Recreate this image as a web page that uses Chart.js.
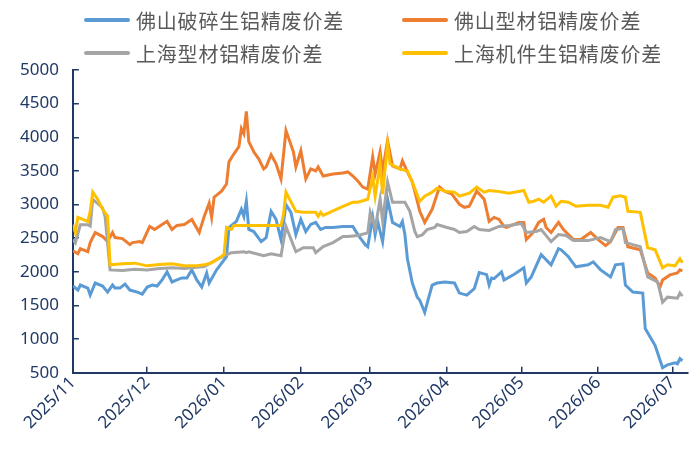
<!DOCTYPE html>
<html lang="zh-CN">
<head>
    <meta charset="UTF-8">
    <title>铝精废价差</title>
    <style>
        body {
            margin: 0;
            background-color: white;
            font-family: "Noto Sans CJK SC", sans-serif;
        }
        .wrap {
            position: relative;
            width: 693px;
            height: 456px;
        }
        #legend {
            position: absolute;
            left: 0;
            top: 0;
            width: 693px;
            height: 70px;
        }
        .item {
            position: absolute;
            display: flex;
            align-items: center;
            height: 30px;
            font-size: 20px;
            letter-spacing: 0.8px;
            color: #595959;
            white-space: nowrap;
        }
        .swatch {
            display: inline-block;
            width: 46px;
            height: 4px;
            margin-right: 6px;
            border-radius: 2px;
        }
    </style>
    <script src="https://cdn.jsdelivr.net/npm/chart.js"></script>
</head>
<body>
<div class="wrap">
    <canvas id="lineChart" width="693" height="456"></canvas>
    <div id="legend"></div>
</div>

<script>
    // series names / colours
    const seriesNames = ['佛山破碎生铝精废价差', '佛山型材铝精废价差', '上海型材铝精废价差', '上海机件生铝精废价差'];
    const seriesColors = ['#5B9BD5', '#ED7D31', '#A5A5A5', '#FFC000'];

    // x axis: days counted from 2025/11/01
    const monthStarts = [0, 30, 61, 92, 120, 151, 181, 212, 242];
    const monthLabels = ['2025/11', '2025/12', '2026/01', '2026/02', '2026/03', '2026/04', '2026/05', '2026/06', '2026/07'];

    // 佛山破碎生铝精废价差
    const blueDays = [0,2,3,6,7,9,12,14,16,17,19,21,23,26,28,30,32,34,36,38,40,42,44,46,48,50,52,54,55,58,
        62,63,66,68,69,70,71,73,76,78,80,82,84,86,88,90,92,94,96,98,100,102,105,109,113,115,118,119,121,122,
        123,125,127,129,132,133,134,135,137,139,140,142,143,145,147,150,154,156,159,162,164,167,168,169,170,173,174,178,182,183,
        185,189,193,196,197,200,203,208,210,213,217,219,222,223,226,230,231,235,238,240,243,244,245,246];
    const blueVals = [1790,1730,1805,1760,1655,1835,1790,1700,1805,1760,1760,1820,1730,1700,1670,1775,1805,1790,1880,2000,
        1850,1880,1910,1910,2030,1880,1775,1985,1835,2030,2225,2660,2750,2930,2825,3050,2630,2600,2450,2510,
        2900,2780,2480,3000,2885,2555,2780,2600,2705,2735,2630,2660,2660,2675,2675,2555,2405,2375,2810,2555,
        2750,2450,3080,2735,2675,2750,2555,2200,1835,1625,1580,1400,1535,1805,1835,1850,1835,1685,1655,1750,
        1990,1960,1805,1910,1900,2000,1880,1960,2060,1835,1925,2255,2105,2345,2330,2225,2075,2105,2150,2030,
        1925,2105,2120,1805,1700,1685,1160,905,575,620,650,635,710,680];

    // 佛山型材铝精废价差
    const orangeDays = [0,2,3,6,7,9,12,14,16,17,20,23,24,27,28,31,33,36,38,40,42,45,48,51,53,55,56,57,60,62,
        63,65,67,68,69,70,71,73,75,77,78,80,82,84,86,89,90,92,94,96,98,99,101,105,109,111,113,115,117,119,
        121,122,124,125,127,129,132,133,135,137,139,140,142,145,147,148,150,153,156,158,160,163,166,168,170,172,174,175,180,182,
        183,185,186,188,190,191,193,196,198,200,202,205,209,212,215,217,220,222,224,229,232,235,237,238,241,244,245,246];
    const orangeVals = [2315,2270,2345,2300,2435,2585,2525,2450,2585,2510,2495,2405,2435,2450,2435,2675,2630,2705,2750,2630,
        2690,2705,2780,2585,2825,3020,2810,3110,3200,3305,3635,3755,3860,4130,4055,4385,3935,3785,3680,3530,
        3560,3740,3605,3380,4100,3785,3560,3800,3380,3530,3500,3560,3425,3455,3470,3485,3425,3350,3260,3230,
        3710,3455,3785,3500,3950,3575,3530,3650,3485,3335,3050,2900,2735,2930,3155,3260,3200,3155,3005,2960,
        2975,3200,3080,2750,2810,2780,2675,2660,2735,2735,2480,2555,2600,2735,2780,2660,2585,2735,2630,2555,
        2480,2480,2585,2480,2390,2450,2660,2660,2375,2330,1985,1910,1775,1880,1955,1985,2030,2015];

    // 上海型材铝精废价差
    const grayDays = [0,1,3,6,7,8,12,13,15,20,25,30,35,40,45,50,53,58,62,64,69,70,71,77,80,84,86,90,93,97,
        98,101,105,109,111,115,119,120,122,124,125,127,129,134,136,138,139,141,143,146,147,151,154,156,159,162,164,168,172,176,
        181,183,187,189,193,196,199,202,208,213,217,219,222,223,229,232,236,238,240,244,245,246];
    const grayVals = [2480,2430,2700,2700,2680,3080,2950,2820,2030,2020,2040,2030,2050,2060,2050,2070,2080,2180,2255,2285,
        2300,2285,2300,2240,2270,2240,2675,2300,2360,2360,2285,2375,2435,2525,2525,2540,2580,2885,2650,3080,
        2760,3335,3035,3035,2900,2600,2525,2550,2630,2660,2705,2660,2630,2585,2600,2675,2630,2615,2675,2690,
        2720,2585,2600,2630,2450,2555,2540,2465,2465,2510,2450,2630,2645,2435,2375,1925,1850,1550,1625,1610,
        1685,1640];

    // 上海机件生铝精废价差
    const yellowDays = [0,1,2,6,7,8,10,12,14,15,20,25,30,35,40,45,50,53,56,61,62,64,65,84,85,86,90,93,98,99,
        100,101,109,113,115,119,121,122,124,125,127,128,132,135,137,140,142,145,147,150,154,156,160,163,166,168,171,176,182,184,
        186,188,190,193,195,197,200,203,208,213,216,218,221,223,224,229,232,235,238,240,243,245,246];
    const yellowVals = [2700,2585,2810,2750,2900,3185,3080,2930,2825,2105,2120,2130,2090,2110,2120,2090,2090,2105,2135,2255,
        2660,2630,2690,2690,2855,3185,2900,2885,2885,2825,2885,2840,2975,3035,3035,3080,3410,3125,3605,3155,
        3900,3605,3530,3500,3335,3050,3125,3185,3245,3200,3185,3125,3170,3260,3185,3210,3200,3170,3210,3035,
        3050,3080,3035,3125,2975,3050,3035,2975,2990,2990,2960,3110,3130,3110,2900,2885,2360,2330,2060,2105,
        2090,2195,2135];

    const allDays = [blueDays, orangeDays, grayDays, yellowDays];
    const allVals = [blueVals, orangeVals, grayVals, yellowVals];

    const navy = '#1F3864';

    function buildLegend() {
        const legend = document.getElementById('legend');
        const spots = [[84, 5], [402, 5], [84, 38], [402, 38]];
        seriesNames.forEach((name, i) => {
            const item = document.createElement('div');
            item.className = 'item';
            item.style.left = spots[i][0] + 'px';
            item.style.top = spots[i][1] + 'px';
            item.innerHTML = '<span class="swatch" style="background:' + seriesColors[i] + '"></span>' + name;
            legend.appendChild(item);
        });
    }

    function createLineChart() {
        const ctx = document.getElementById('lineChart').getContext('2d');
        const datasets = seriesNames.map((name, i) => ({
            label: name,
            data: allDays[i].map((d, j) => ({ x: d, y: allVals[i][j] })),
            borderColor: seriesColors[i],
            backgroundColor: seriesColors[i],
            borderWidth: 3,
            pointRadius: 0,
            fill: false,
            tension: 0,
            order: 3 - i   // later series drawn on top
        }));

        new Chart(ctx, {
            type: 'line',
            data: { datasets: datasets },
            options: {
                responsive: false,
                animation: false,
                devicePixelRatio: 1,
                layout: { padding: { top: 70, right: 4, bottom: 17, left: 0 } },
                plugins: {
                    legend: { display: false },
                    tooltip: { enabled: false }
                },
                scales: {
                    x: {
                        type: 'linear',
                        min: 0,
                        max: 248,
                        afterBuildTicks: axis => {
                            axis.ticks = monthStarts.map(v => ({ value: v }));
                        },
                        ticks: {
                            autoSkip: false,
                            minRotation: 45,
                            maxRotation: 45,
                            padding: 6,
                            color: navy,
                            font: { family: 'Noto Sans', size: 17 },
                            callback: v => monthLabels[monthStarts.indexOf(v)]
                        },
                        grid: {
                            drawOnChartArea: false,
                            tickLength: -6,
                            color: navy,
                            lineWidth: 1.5
                        },
                        border: { color: navy, width: 2 }
                    },
                    y: {
                        min: 500,
                        max: 5000,
                        ticks: {
                            stepSize: 500,
                            padding: 20,
                            color: navy,
                            font: { family: 'Noto Sans', size: 17 },
                            callback: v => String(v)
                        },
                        grid: {
                            drawOnChartArea: false,
                            tickLength: -6,
                            color: navy,
                            lineWidth: 1.5
                        },
                        border: { color: navy, width: 2 }
                    }
                }
            }
        });
    }

    buildLegend();
    createLineChart();
</script>
</body>
</html>
